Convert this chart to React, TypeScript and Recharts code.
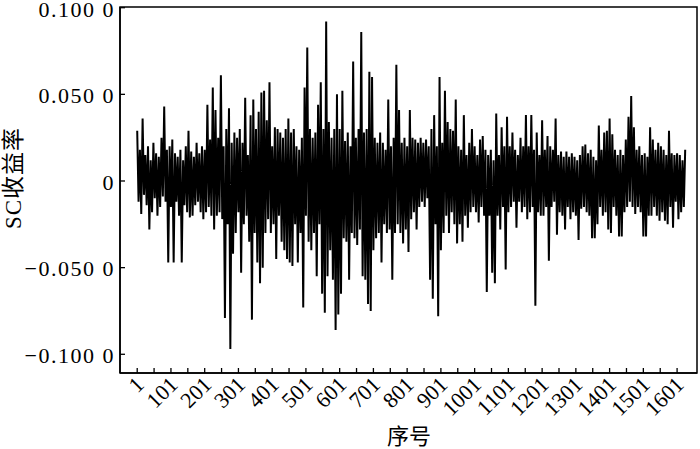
import { LineChart, Line, XAxis, YAxis, ReferenceArea } from 'recharts';

// SC return series in thousandths, one value every 4th 序号 (1, 5, 9, ...)
const sampleStep = 4;
const returnsPermille = [
  29, -12, 18, -19, 36, -8, 15, -14, 20, -28,
  12, -18, 22, -10, 16, -20, 14, -15, 25, -9,
  43, -12, 18, -47, 20, -15, 24, -47, 16, -12,
  14, -20, 18, -47, 12, -14, 20, -18, 29, -21,
  17, -20, 14, -14, 22, -12, 16, -18, 20, -22,
  18, -18, 44, -15, 24, -20, 54, -28, 41, -20,
  25, -18, 61, -22, 20, -79, 30, -25, 42, -97,
  22, -42, 28, -30, 25, -18, 30, -53, 22, -25,
  48, -20, 15, -35, 38, -80, 47, -30, 30, -47,
  40, -59, 51, -50, 52, -30, 35, -22, 57, -30,
  20, -25, 31, -45, 30, -20, 28, -35, 25, -40,
  30, -45, 36, -47, 28, -49, 30, -25, 20, -47,
  18, -30, 25, -73, 54, -20, 77, -35, 30, -40,
  25, -30, 28, -55, 44, -25, 57, -65, 30, -76,
  92, -55, 34, -40, 25, -57, 30, -86, 50, -77,
  30, -65, 52, -33, 23, -35, 28, -57, 20, -30,
  69, -33, 25, -37, 30, -28, 86, -55, 28, -57,
  30, -71, 63, -75, 60, -40, 25, -33, 22, -30,
  28, -47, 22, -25, 18, -30, 47, -28, 20, -57,
  25, -30, 67, -25, 41, -30, 22, -36, 25, -28,
  20, -41, 41, -22, 25, -18, 24, -28, 22, -15,
  25, -12, 22, -15, 24, -10, 20, -57, 30, -68,
  38, -25, 20, -78, 60, -40, 22, -30, 52, -20,
  34, -30, 30, -18, 29, -25, 47, -36, 20, -25,
  18, -35, 38, -20, 15, -27, 22, -18, 30, -15,
  20, -18, 15, -24, 24, -15, 26, -20, 18, -64,
  15, -20, 18, -53, 12, -59, 39, -20, 15, -28,
  31, -15, 20, -51, 37, -18, 20, -15, 28, -12,
  18, -27, 15, -12, 25, -18, 20, -15, 38, -22,
  20, -18, 38, -15, 18, -72, 28, -18, 15, -20,
  35, -20, 18, -15, 26, -46, 20, -15, 18, -12,
  36, -31, 15, -18, 17, -20, 14, -28, 17, -15,
  14, -22, 16, -18, 14, -20, 12, -34, 15, -16,
  20, -15, 21, -18, 16, -20, 18, -33, 14, -33,
  12, -25, 32, -15, 18, -20, 28, -18, 29, -28,
  36, -30, 27, -15, 18, -20, 15, -32, 18, -32,
  15, -18, 24, -15, 37, -12, 49, -15, 31, -19,
  18, -15, 20, -18, 15, -32, 16, -32, 14, -20,
  31, -20, 24, -15, 18, -20, 22, -23, 20, -18,
  18, -23, 15, -25, 29, -15, 16, -27, 15, -12,
  16, -22, 15, -18, 12, -15, 18,
];

const xTicks = [
  1, 51, 101, 151, 201, 251, 301, 351, 401, 451, 501, 551, 601, 651, 701, 751, 801,
  851, 901, 951, 1001, 1051, 1101, 1151, 1201, 1251, 1301, 1351, 1401, 1451, 1501, 1551, 1601,
];
const xLabelled = [1, 101, 201, 301, 401, 501, 601, 701, 801, 901, 1001, 1101, 1201, 1301, 1401, 1501, 1601];
const yTicks = [-0.1, -0.05, 0, 0.05, 0.1];

const data = returnsPermille.map((v, k) => ({ idx: 1 + k * sampleStep, r: v / 1000 }));

const FONT = '"Liberation Serif", "Times New Roman", "Noto Sans CJK SC", serif';

const fmtY = (v: number) => {
  if (v === 0) return '0';
  const s = Math.abs(v).toFixed(3) + ' 0';
  return v < 0 ? '\u2212' + s : s;
};

const XTick = (props: any) => {
  const { x, y, payload } = props;
  const lx = x + 8;
  const ly = y + 13;
  return (
    <g>
      <line x1={x} y1={y} x2={x} y2={y - 5} stroke="#000" strokeWidth={1.3} />
      {xLabelled.includes(payload.value) && (
        <text
          x={lx}
          y={ly}
          transform={`rotate(-45 ${lx} ${ly})`}
          textAnchor="end"
          fontFamily={FONT}
          fontSize={22}
          fill="#000"
        >
          {payload.value}
        </text>
      )}
    </g>
  );
};

const YTick = (props: any) => {
  const { x, y, payload } = props;
  return (
    <g>
      <line x1={x} y1={y} x2={x + 5} y2={y} stroke="#000" strokeWidth={1.3} />
      <text
        x={x - 5}
        y={y}
        dy="0.4em"
        textAnchor="end"
        fontFamily={FONT}
        fontSize={22}
        letterSpacing={1.5}
        fill="#000"
      >
        {fmtY(payload.value)}
      </text>
    </g>
  );
};

export default function App() {
  return (
    <div style={{ position: 'absolute', left: 0, top: 0, width: 700, height: 449, background: '#fff' }}>
      <LineChart width={700} height={449} data={data} margin={{ top: 7, right: 3, left: 0, bottom: 0 }}>
        <XAxis
          dataKey="idx"
          type="number"
          domain={[-50, 1660]}
          ticks={xTicks}
          interval={0}
          height={76}
          tickSize={0}
          tickMargin={0}
          tickLine={false}
          axisLine={{ stroke: '#000', strokeWidth: 1.5 }}
          tick={<XTick />}
          allowDataOverflow
        />
        <YAxis
          type="number"
          domain={[-0.1108, 0.1004]}
          ticks={yTicks}
          interval={0}
          width={120}
          tickSize={0}
          tickMargin={0}
          tickLine={false}
          axisLine={{ stroke: '#000', strokeWidth: 1.5 }}
          tick={<YTick />}
          allowDataOverflow
        />
        <ReferenceArea
          x1={-50}
          x2={1660}
          y1={-0.1108}
          y2={0.1004}
          fill="none"
          fillOpacity={0}
          stroke="#000"
          strokeWidth={1.5}
        />
        <Line
          type="linear"
          dataKey="r"
          stroke="#000"
          strokeWidth={2}
          strokeLinejoin="bevel"
          dot={false}
          activeDot={false}
          isAnimationActive={false}
        />
      </LineChart>
      <div
        style={{
          position: 'absolute',
          left: 13,
          top: 178,
          transform: 'translate(-50%, -50%) rotate(-90deg)',
          fontFamily: FONT,
          fontSize: 23,
          letterSpacing: 1,
          whiteSpace: 'nowrap',
          lineHeight: 1,
        }}
      >
        SC收益率
      </div>
      <div
        style={{
          position: 'absolute',
          left: 409,
          top: 437,
          transform: 'translate(-50%, -50%)',
          fontFamily: FONT,
          fontSize: 22,
          whiteSpace: 'nowrap',
          lineHeight: 1,
        }}
      >
        序号
      </div>
    </div>
  );
}
